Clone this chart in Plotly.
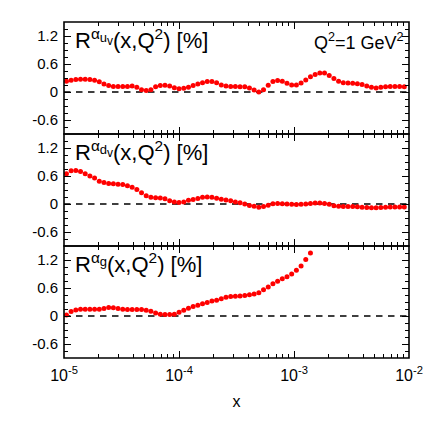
import numpy as np
import plotly.graph_objects as go

# ---- data ----
n_points = 74
x_grid = np.logspace(np.log10(1.05e-5), -2, n_points)

r_uv = [0.23, 0.25, 0.27, 0.275, 0.275, 0.27, 0.25, 0.22, 0.17, 0.14, 0.12, 0.12, 0.12, 0.12,
        0.13, 0.10, 0.05, 0.03, 0.05, 0.11, 0.14, 0.145, 0.13, 0.09, 0.07, 0.08, 0.10, 0.14,
        0.17, 0.20, 0.225, 0.225, 0.20, 0.15, 0.13, 0.12, 0.12,
        0.115, 0.11, 0.085, 0.045, 0.0, 0.05, 0.145, 0.225, 0.245, 0.23, 0.19, 0.15, 0.15,
        0.195, 0.255, 0.325, 0.375, 0.405, 0.405, 0.355, 0.29, 0.23, 0.20, 0.195, 0.19, 0.175,
        0.16, 0.13, 0.10, 0.085, 0.10, 0.115, 0.12, 0.12, 0.12, 0.115, 0.08]

r_dv = [0.65, 0.71, 0.72, 0.695, 0.65, 0.60, 0.555, 0.49, 0.46, 0.44, 0.435, 0.425, 0.42, 0.39,
        0.36, 0.31, 0.24, 0.175, 0.145, 0.135, 0.13, 0.11, 0.07, 0.045, 0.03, 0.045, 0.08, 0.095,
        0.12, 0.145, 0.15, 0.145, 0.125, 0.10, 0.085, 0.07, 0.045,
        0.025, 0.0, -0.03, -0.05, -0.07, -0.055, -0.025, 0.005, 0.01, 0.005, 0.0, -0.005, -0.01,
        -0.005, 0.0, 0.01, 0.02, 0.02, 0.01, -0.005, -0.035, -0.05, -0.055, -0.055, -0.055, -0.06,
        -0.07, -0.075, -0.08, -0.08, -0.075, -0.07, -0.065, -0.065, -0.065, -0.065, -0.07]

r_g = [0.02, 0.095, 0.13, 0.145, 0.145, 0.145, 0.145, 0.145, 0.16, 0.18, 0.175, 0.16, 0.145, 0.14,
       0.14, 0.14, 0.14, 0.125, 0.10, 0.065, 0.035, 0.03, 0.03, 0.035, 0.08, 0.125, 0.165, 0.205,
       0.23, 0.26, 0.29, 0.32, 0.34, 0.37, 0.40, 0.42, 0.425,
       0.43, 0.44, 0.455, 0.47, 0.50, 0.56, 0.62, 0.69, 0.745, 0.80, 0.84, 0.90, 0.98, 1.07, 1.21, 1.35]

y_tickvals = [-0.6, 0, 0.6, 1.2]
y_ticktext = ["-0.6", "0", "0.6", "1.2"]
x_tickvals = [1e-5, 1e-4, 1e-3, 1e-2]
x_ticktext = ["10<sup>-5</sup>", "10<sup>-4</sup>", "10<sup>-3</sup>", "10<sup>-2</sup>"]

SUBA = "<span style='font-size:13px'>{a}<sub><span style='font-size:12px'>v</span></sub></span>"
panel_titles = [
    "R<sup>α<sub>" + SUBA.format(a="u") + "</sub></sup>(x,Q<sup>2</sup>) [%]",
    "R<sup>α<sub>" + SUBA.format(a="d") + "</sub></sup>(x,Q<sup>2</sup>) [%]",
    "R<sup>α<sub><span style='font-size:13px'>g</span></sub></sup>(x,Q<sup>2</sup>) [%]",
]
q2_label = "Q<sup>2</sup>=1 GeV<sup>2</sup>"

FONT = "Liberation Sans, Arial, sans-serif"

x_minor = [m * 10.0 ** e for e in (-5, -4, -3) for m in range(2, 10)]
y_minor = [round(-0.9 + 0.15 * k, 2) for k in range(17)]

series = [r_uv, r_dv, r_g]  # top, middle, bottom

fig = go.Figure()
# axis index: 1 = bottom (g), 2 = middle (dv), 3 = top (uv)
order = {0: 3, 1: 2, 2: 1}
for k, vals in enumerate(series):
    ax = order[k]
    fig.add_trace(go.Scatter(
        x=x_grid[:len(vals)], y=vals, mode="markers",
        marker=dict(color="#ff0000", size=5, line=dict(width=0)),
        xaxis="x" if ax == 1 else f"x{ax}",
        yaxis="y" if ax == 1 else f"y{ax}",
        showlegend=False, cliponaxis=False,
    ))

domains = {1: [0, 1 / 3], 2: [1 / 3, 2 / 3], 3: [2 / 3, 1]}
layout = dict(
    width=432, height=432,
    margin=dict(l=56, r=31, t=14, b=82),
    paper_bgcolor="white", plot_bgcolor="white",
    font=dict(family=FONT, size=15, color="black"),
    showlegend=False,
)

for ax in (1, 2, 3):
    xname = "xaxis" if ax == 1 else f"xaxis{ax}"
    yname = "yaxis" if ax == 1 else f"yaxis{ax}"
    yref = "y" if ax == 1 else f"y{ax}"
    xref = "x" if ax == 1 else f"x{ax}"
    layout[xname] = dict(
        type="log", range=[-5, -2], anchor=yref,
        showline=False, mirror="ticks",
        ticks="inside", ticklen=7, tickwidth=1, tickcolor="black",
        tickmode="array", tickvals=x_tickvals, ticktext=x_ticktext,
        showticklabels=(ax == 1), tickfont=dict(size=16), ticklabelstandoff=6,
        minor=dict(tickmode="array", tickvals=x_minor, ticks="inside", ticklen=4,
                   tickwidth=1, tickcolor="black"),
        showgrid=False, zeroline=False,
    )
    if ax == 1:
        layout[xname]["title"] = dict(text="x", font=dict(size=16), standoff=12)
    else:
        layout[xname]["matches"] = "x"
    layout[yname] = dict(
        range=[-0.9, 1.5], domain=domains[ax], anchor=xref,
        showline=False, mirror="ticks",
        ticks="inside", ticklen=7, tickwidth=1, tickcolor="black",
        tickmode="array", tickvals=y_tickvals, ticktext=y_ticktext,
        tickfont=dict(size=15), ticklabelstandoff=5,
        minor=dict(tickmode="array", tickvals=y_minor, ticks="inside", ticklen=4,
                   tickwidth=1, tickcolor="black"),
        showgrid=False, zeroline=False,
    )

fig.update_layout(**layout)

shapes = []
annotations = []
for k in range(3):
    ax = order[k]
    xr = "x" if ax == 1 else f"x{ax}"
    yr = "y" if ax == 1 else f"y{ax}"
    shapes.append(dict(type="line", xref=f"{xr} domain", yref=yr, x0=0, x1=1, y0=0, y1=0,
                       line=dict(color="black", width=1.5, dash="6.5px,5.5px"), layer="below"))
    shapes.append(dict(type="rect", xref=f"{xr} domain", yref=f"{yr} domain",
                       x0=0, x1=1, y0=0, y1=1, line=dict(color="black", width=1.6),
                       fillcolor="rgba(0,0,0,0)", layer="above"))
    annotations.append(dict(text=panel_titles[k], xref=f"{xr} domain", yref=f"{yr} domain",
                            x=0.025, y=0.99, xanchor="left", yanchor="top", showarrow=False,
                            font=dict(size=22, family=FONT, color="black")))
annotations.append(dict(text=q2_label, xref="x3 domain", yref="y3 domain", x=0.99, y=0.95,
                        xanchor="right", yanchor="top", showarrow=False,
                        font=dict(size=18, family=FONT, color="black")))
fig.update_layout(shapes=shapes, annotations=annotations)

fig.write_html("out.html")
